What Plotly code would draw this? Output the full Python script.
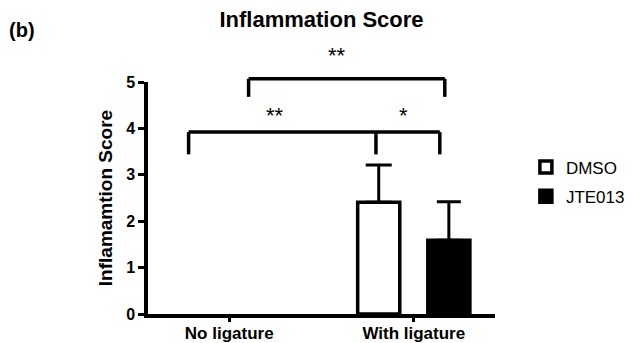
import plotly.graph_objects as go

categories = ["No ligature", "With ligature"]
dmso_mean = [0.0, 2.41]
dmso_sd = [0.0, 0.80]
jte_mean = [0.0, 1.59]
jte_sd = [0.0, 0.83]
y_ticks = [0, 1, 2, 3, 4, 5]
y_max = 5

# significance brackets: x positions (category units), top y and drop y (data units)
brackets = [
    {"xs": [0.105, 1.168], "top": 5.07, "drop": 4.68},
    {"xs": [-0.220, 0.795, 1.141], "top": 3.92, "drop": 3.44},
]
stars = [
    {"text": "**", "x": 0.582, "y": 5.57},
    {"text": "**", "x": 0.246, "y": 4.28},
    {"text": "*", "x": 0.943, "y": 4.28},
]

FONT = "Liberation Sans, Arial, sans-serif"


def shown(values):
    # zero-height bars are invisible in the reference; skip them (and their error bars)
    return [v if v > 0 else None for v in values]


fig = go.Figure()
fig.add_trace(go.Bar(
    name="DMSO", x=categories, y=shown(dmso_mean), legendgroup="a",
    marker=dict(color="white", line=dict(color="black", width=3.5)),
    error_y=dict(type="data", array=dmso_sd, arrayminus=[0, 0],
                 symmetric=False, color="black", thickness=3, width=13),
))
fig.add_trace(go.Bar(
    name="JTE013", x=categories, y=shown(jte_mean), legendgroup="b",
    marker=dict(color="black", line=dict(color="black", width=3.5)),
    error_y=dict(type="data", array=jte_sd, arrayminus=[0, 0],
                 symmetric=False, color="black", thickness=3, width=12),
))

shapes = []
for b in brackets:
    xs = b["xs"]
    shapes.append(dict(type="line", xref="x", yref="paper",
                       x0=xs[0], x1=xs[-1], y0=b["top"] / y_max, y1=b["top"] / y_max,
                       line=dict(color="black", width=3.5)))
    for xv in xs:
        shapes.append(dict(type="line", xref="x", yref="paper",
                           x0=xv, x1=xv, y0=b["top"] / y_max, y1=b["drop"] / y_max,
                           line=dict(color="black", width=3.5)))

annotations = [
    dict(text=s["text"], x=s["x"], y=s["y"] / y_max, xref="x", yref="paper",
         xanchor="center", yanchor="middle", showarrow=False,
         font=dict(family=FONT, size=22, color="black"))
    for s in stars
]
annotations.append(dict(text="(b)", x=-0.406, y=1.222, xref="paper", yref="paper",
                        xanchor="left", yanchor="middle", showarrow=False,
                        font=dict(family=FONT, size=20, color="black", weight="bold")))

fig.update_layout(
    width=624, height=335,
    margin=dict(l=140, r=137, t=74, b=29, autoexpand=False),
    paper_bgcolor="white", plot_bgcolor="white",
    barmode="group", bargap=0.24, bargroupgap=0.40,
    title=dict(text="Inflammation Score", x=0.5, xref="paper",
               y=0.966, yanchor="middle",
               font=dict(family=FONT, size=22, color="black", weight="bold")),
    font=dict(family=FONT, color="black"),
    showlegend=True,
    legend=dict(x=1.089, y=0.709, xanchor="left", yanchor="top",
                font=dict(family=FONT, size=17, color="black"),
                bgcolor="rgba(0,0,0,0)", tracegroupgap=4),
    shapes=shapes,
    annotations=annotations,
)
fig.update_xaxes(
    range=[-0.44, 1.44], showline=True, linecolor="black", linewidth=3.5,
    ticks="outside", ticklen=4, tickwidth=3, tickcolor="black",
    ticklabelstandoff=-3,
    tickfont=dict(family=FONT, size=17, color="black", weight="bold"),
    showgrid=False, zeroline=False, automargin=False,
)
fig.update_yaxes(
    range=[0, y_max], tickvals=y_ticks, showline=True, linecolor="black", linewidth=3.5,
    ticks="outside", ticklen=6, tickwidth=3, tickcolor="black",
    tickfont=dict(family=FONT, size=16, color="black", weight="bold"),
    showgrid=False, zeroline=False, automargin=False,
    title=dict(text="Inflamamtion Score", standoff=9,
               font=dict(family=FONT, size=19, color="black", weight="bold")),
)

fig.write_html("out.html")
